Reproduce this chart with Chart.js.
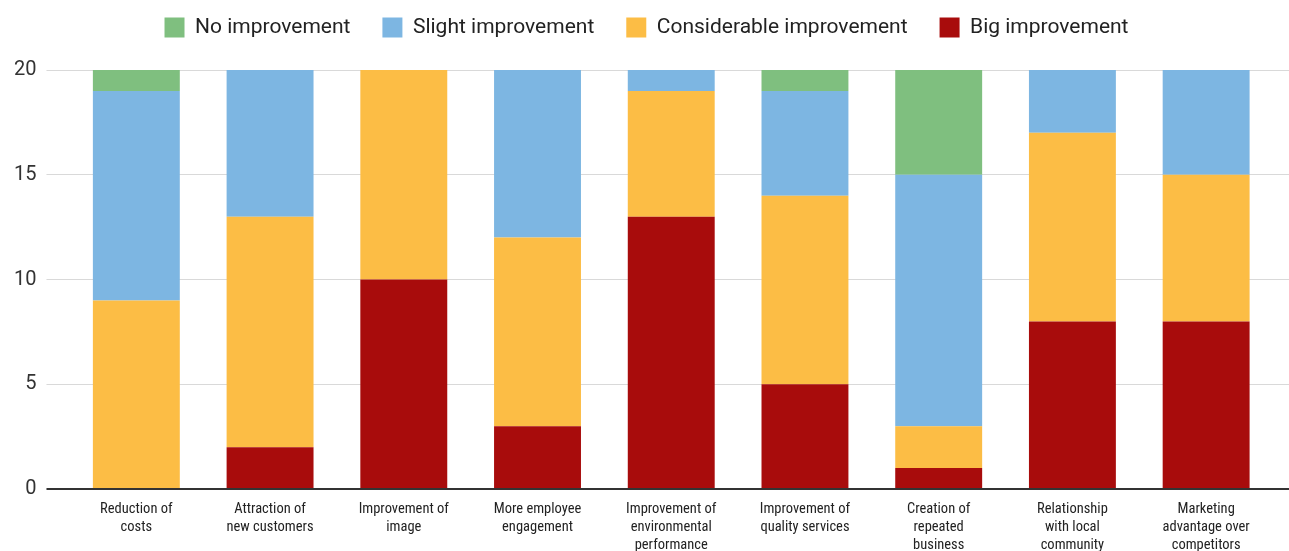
<!DOCTYPE html>
<html>
<head>
<meta charset="utf-8">
<script src="https://cdn.jsdelivr.net/npm/chart.js@4"></script>
<style>
  html, body { margin: 0; padding: 0; background: #fff; overflow: hidden; }
  #wrap { position: relative; width: 1289px; height: 565px; }
</style>
</head>
<body>
<div id="wrap"><canvas id="chart"></canvas></div>
<script>
// 범주 / 시리즈 값
const categories = [
  ['Reduction of', 'costs'],
  ['Attraction of', 'new customers'],
  ['Improvement of', 'image'],
  ['More employee', 'engagement'],
  ['Improvement of', 'environmental', 'performance'],
  ['Improvement of', 'quality services'],
  ['Creation of', 'repeated', 'business'],
  ['Relationship', 'with local', 'community'],
  ['Marketing', 'advantage over', 'competitors'],
];
const bigImprovement =          [0, 2, 10, 3, 13, 5, 1, 8, 8];
const considerableImprovement = [9, 11, 10, 9, 6, 9, 2, 9, 7];
const slightImprovement =       [10, 7, 0, 8, 1, 5, 12, 3, 5];
const noImprovement =           [1, 0, 0, 0, 0, 1, 5, 0, 0];
const yTicks = [0, 5, 10, 15, 20];

const FONT = 'Roboto, "Open Sans", sans-serif';
const NARROW = '"Roboto Condensed", "Liberation Sans Narrow", "DejaVu Sans Condensed", Roboto, sans-serif';
const gridColor = (ctx) => (ctx.tick && ctx.tick.value === 0 ? '#333333' : '#d9d9d9');
const gridWidth = (ctx) => (ctx.tick && ctx.tick.value === 0 ? 2 : 1);

// 범례 아래 여백 (차트 영역 시작을 맞추기 위해)
const legendGap = {
  id: 'legendGap',
  beforeInit(chart) {
    const fit = chart.legend.fit;
    chart.legend.fit = function () {
      fit.call(this);
      this.height += 22;
    };
  },
};

new Chart(document.getElementById('chart'), {
  type: 'bar',
  data: {
    labels: categories,
    datasets: [
      // 아래부터 쌓임: Big → Considerable → Slight → No
      { label: 'Big improvement', data: bigImprovement, backgroundColor: '#a80c0c' },
      { label: 'Considerable improvement', data: considerableImprovement, backgroundColor: '#fcbd45' },
      { label: 'Slight improvement', data: slightImprovement, backgroundColor: '#7db6e2' },
      { label: 'No improvement', data: noImprovement, backgroundColor: '#7fbf7f' },
    ],
  },
  options: {
    responsive: true,
    maintainAspectRatio: false,
    animation: false,
    barPercentage: 0.65,
    categoryPercentage: 1,
    layout: { padding: { left: 4, right: 0, top: -15, bottom: 0 } },
    plugins: {
      tooltip: { enabled: false },
      legend: {
        position: 'top',
        reverse: true,
        labels: {
          color: '#222',
          font: { family: FONT, size: 21 },
          boxWidth: 20,
          boxHeight: 20,
          padding: 32,
        },
      },
    },
    scales: {
      x: {
        stacked: true,
        grid: { display: false, drawTicks: false },
        border: { display: false },
        ticks: {
          color: '#222',
          font: { family: NARROW, size: 14.5, lineHeight: 1.24 },
          padding: 11,
          maxRotation: 0,
          autoSkip: false,
        },
      },
      y: {
        stacked: true,
        min: 0,
        max: 20,
        afterBuildTicks: (scale) => { scale.ticks = yTicks.map(v => ({ value: v })); },
        grid: { color: gridColor, lineWidth: gridWidth, tickLength: 23, tickColor: gridColor },
        border: { display: false },
        ticks: { color: '#333', font: { family: FONT, size: 20 }, padding: 10 },
      },
      yRight: {
        position: 'right',
        min: 0,
        max: 20,
        afterBuildTicks: (scale) => { scale.ticks = yTicks.map(v => ({ value: v })); },
        grid: { drawOnChartArea: false, color: gridColor, lineWidth: gridWidth, tickLength: 16, tickColor: gridColor },
        border: { display: false },
        ticks: { display: false },
      },
    },
  },
  plugins: [legendGap],
});
</script>
</body>
</html>
